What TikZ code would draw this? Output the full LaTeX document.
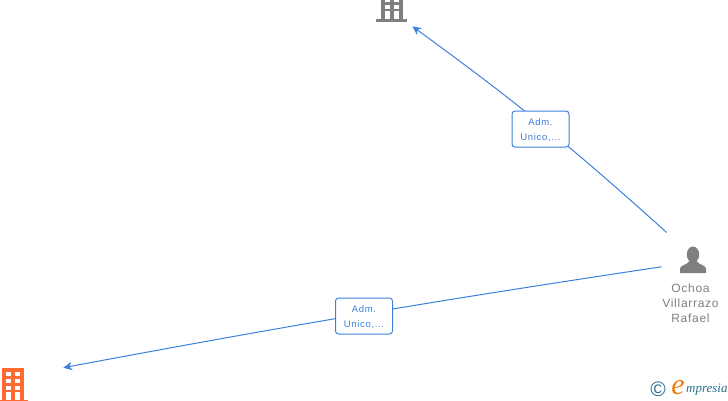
\documentclass[tikz,border=0pt]{standalone}
\usepackage{fontspec}
\setmainfont{Liberation Sans}
\newfontfamily\logofont{Liberation Serif}
\usetikzlibrary{arrows.meta,positioning}
\definecolor{linkblue}{HTML}{3C80DC}
\definecolor{icongray}{HTML}{7F7F7F}
\definecolor{iconorange}{HTML}{FF6A33}
\definecolor{logoteal}{HTML}{2C6E8F}
\definecolor{logoorange}{HTML}{EE7A12}

\begin{document}
\begin{tikzpicture}[x=1pt,y=-1pt,
  spot/.style={circle, draw=none, inner sep=0pt, minimum size=#1},
  link/.style={draw=linkblue, line width=1pt, -{Stealth[length=9pt,width=8.5pt]}},
  admbox/.style={draw=linkblue, line width=1pt, rounded corners=3pt, fill=white, align=center,
                 minimum width=57pt, minimum height=36pt, inner sep=0pt, text=linkblue,
                 font=\fontsize{9.5}{15}\selectfont\addfontfeature{LetterSpace=7}},
  who/.style={align=center, text=icongray, inner sep=0pt,
              font=\fontsize{12}{15}\selectfont\addfontfeature{LetterSpace=6}},
  pics/tower/.style={code={
    \fill[#1] (0,-13) rectangle (22,19);
    \fill[#1] (-5,19) rectangle (26,21.5);
    \foreach \wx in {4,13} {
      \foreach \wy in {-9,-2,5} \fill[white] (\wx,\wy) rectangle +(4.5,4);
      \fill[white] (\wx,11) rectangle +(4.5,8);
    }
  }}
]
\useasboundingbox (0,0) rectangle (728,400);
\node[spot=60pt] (tower) at (391,5) {};
\node[spot=106pt] (orange) at (13,385) {};
\node[spot=80pt] (ochoa) at (700,255) {};
% connectors
\draw[link] (ochoa.146) to[bend right=3] (tower.-45);
\draw[link] (ochoa.197) to[bend right=1] (orange.19);
\node[admbox] (admA) at (540.5,129) {\rule{0pt}{9.5pt}Adm.\\Unico,...};
\node[admbox] (admB) at (364,316) {\rule{0pt}{9.5pt}Adm.\\Unico,...};
% icons
\pic at (381,0) {tower=icongray};
\pic at (2,381) {tower=iconorange};
\fill[icongray] (693,254.5) ellipse (6.2 and 8);
\fill[icongray] (680,273) -- (680,268.5) .. controls (680.5,265) and (687,265) .. (689.5,261)
  -- (696.5,261) .. controls (699,265) and (705.5,265) .. (706,268.5) -- (706,273) -- cycle;
\node[who] (name) at (690.5,303) {Ochoa\\Villarrazo\\Rafael};
% logo
\node[text=logoteal, inner sep=0pt, font=\fontsize{21}{21}\selectfont] (copy) at (658,389) {©};
\node[text=logoorange, inner sep=0pt, font=\logofont\itshape\fontsize{30}{30}\selectfont] (logoe) at (678,388) {e};
\node[text=logoteal, inner sep=0pt, anchor=west, font=\logofont\itshape\fontsize{13}{13}\selectfont] (logotext) at (686,390) {mpresia};
\end{tikzpicture}
\end{document}
